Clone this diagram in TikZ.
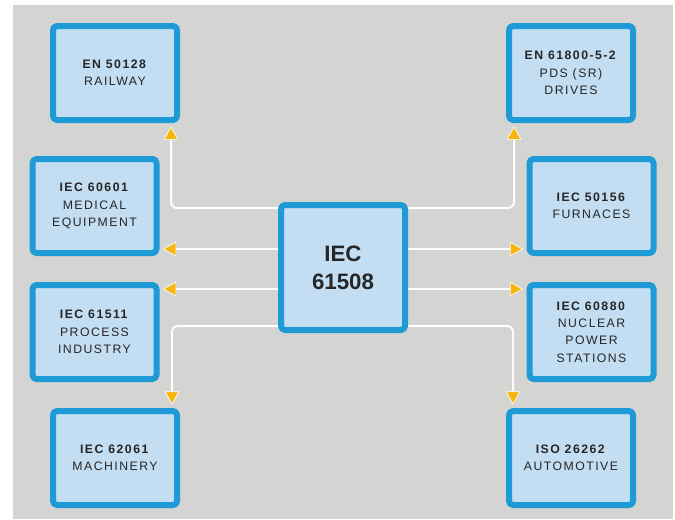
\documentclass[tikz,border=0pt]{standalone}
\usepackage{fontspec}
\setmainfont{Liberation Sans}
\newfontfamily\boxfont[LetterSpace=12]{Liberation Sans}
\usetikzlibrary{arrows.meta}
\definecolor{boxblue}{HTML}{1E9BD7}
\definecolor{boxfill}{HTML}{C3DEF2}
\definecolor{bggray}{HTML}{D4D4D2}
\definecolor{tipyellow}{HTML}{F6B60C}
\definecolor{textgray}{HTML}{262626}
\begin{document}
\begin{tikzpicture}[x=0.75pt,y=-0.75pt,line join=round,
	stdbox/.style={draw=boxblue,fill=boxfill,line width=4.5pt,rounded corners=3pt,
		minimum width=93pt,minimum height=70.5pt,align=center,text=textgray,
		font=\boxfont\fontsize{9.2}{13}\selectfont},
	mainbox/.style={stdbox,minimum height=93.75pt,
		font=\bfseries\fontsize{16.7}{20.8}\selectfont},
	link/.style={draw=white,line width=1.5pt,rounded corners=4.5pt,shorten >=2.5pt,
		-{Triangle[length=10pt,width=11pt,fill=tipyellow,line width=0.5pt]}}]
	\useasboundingbox (0,0) rectangle (675,519);
	\fill[white] (0,0) rectangle (675,519);
	\fill[bggray] (13,5) rectangle (673,519);
	% standards
	\node[mainbox] (iec) at (343,267.5) {IEC\\61508};
	\node[stdbox] (railway) at (115,73) {\textbf{EN 50128}\\RAILWAY};
	\node[stdbox] (drives) at (571,73) {\textbf{EN 61800-5-2}\\PDS (SR)\\DRIVES};
	\node[stdbox] (medical) at (94.5,206) {\textbf{IEC 60601}\\MEDICAL\\EQUIPMENT};
	\node[stdbox] (furnaces) at (591.5,206) {\textbf{IEC 50156}\\FURNACES};
	\node[stdbox] (process) at (94.5,332) {\textbf{IEC 61511}\\PROCESS\\INDUSTRY};
	\node[stdbox] (nuclear) at (591.5,332) {\textbf{IEC 60880}\\NUCLEAR\\POWER\\STATIONS};
	\node[stdbox] (machinery) at (115,458) {\textbf{IEC 62061}\\MACHINERY};
	\node[stdbox] (automotive) at (571,458) {\textbf{ISO 26262}\\AUTOMOTIVE};
	% links
	\draw[link] (iec.west |- 0,208) -| (railway.south -| 171,0);
	\draw[link] (iec.west |- 0,249) -- (medical.east |- 0,249);
	\draw[link] (iec.west |- 0,289) -- (process.east |- 0,289);
	\draw[link] (iec.west |- 0,326) -| (machinery.north -| 172,0);
	\draw[link] (iec.east |- 0,208) -| (drives.south -| 514,0);
	\draw[link] (iec.east |- 0,249) -- (furnaces.west |- 0,249);
	\draw[link] (iec.east |- 0,289) -- (nuclear.west |- 0,289);
	\draw[link] (iec.east |- 0,326) -| (automotive.north -| 513,0);
\end{tikzpicture}
\end{document}
